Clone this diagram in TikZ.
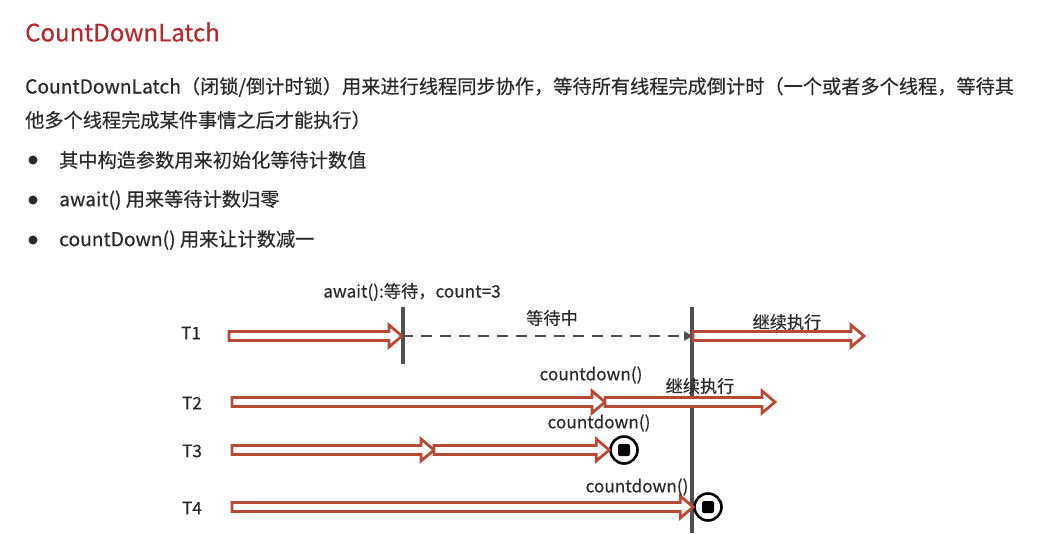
\documentclass[tikz,border=0pt]{standalone}
\usepackage{fontspec}
\setmainfont[FakeBold=0.4]{Noto Sans CJK SC}
\usetikzlibrary{arrows.meta,calc,positioning}

\definecolor{latchred}{HTML}{B02A30}
\definecolor{arrowred}{HTML}{B84A35}
\definecolor{inkgray}{HTML}{2A2A2A}
\definecolor{linegray}{HTML}{505050}

% hollow block arrow between two named points (height taken from the first)
\newcommand\hollowarrow[2]{%
  \draw[tharrow] let \p1=(#1), \p2=(#2) in
    (\x1,\y1+4.5pt) -- (\x2-13pt,\y1+4.5pt) -- (\x2-13pt,\y1+11pt) -- (\x2,\y1)
    -- (\x2-13pt,\y1-11pt) -- (\x2-13pt,\y1-4.5pt) -- (\x1,\y1-4.5pt) -- cycle;}

\begin{document}
\begin{tikzpicture}[x=1pt,y=-1pt,
  body/.style={text=inkgray,inner sep=0pt,font=\fontsize{19.2}{23}\selectfont},
  lbl/.style={text=inkgray,inner sep=0pt,font=\fontsize{17.2}{20}\selectfont},
  tharrow/.style={draw=arrowred,line width=2.8pt,fill=white,line join=miter},
  latchline/.style={draw=linegray,line width=3.2pt},
  waitline/.style={draw=linegray,line width=2.8pt,dash pattern=on 11pt off 8pt,-{Triangle[length=9pt,width=9pt]}},
  stopmark/.style={circle,draw=black,line width=2.6pt,minimum size=27pt,inner sep=0pt,
    path picture={\fill[rounded corners=2pt] ($(path picture bounding box.center)+(-6pt,-6pt)$) rectangle ++(12pt,12pt);}},
  bullet/.style={circle,fill=inkgray,minimum size=9pt,inner sep=0pt}]
\useasboundingbox (0,0) rectangle (1051,533);

% heading and text
\node[anchor=west,inner sep=0pt,text=latchred,font=\fontsize{24}{28}\selectfont] (title) at (25,32) {CountDownLatch};
\node[body,anchor=west] (para1) at (25,87) {CountDownLatch（闭锁/倒计时锁）用来进行线程同步协作，等待所有线程完成倒计时（一个或者多个线程，等待其};
\node[body,anchor=west] (para2) at (25,120) {他多个线程完成某件事情之后才能执行）};
\node[bullet] (b1) at (33,160) {};
\node[bullet] (b2) at (33,200) {};
\node[bullet] (b3) at (33,240) {};
\node[body,anchor=west] (item1) at (59,160) {其中构造参数用来初始化等待计数值};
\node[body,anchor=west] (item2) at (59,200) {await() 用来等待计数归零};
\node[body,anchor=west] (item3) at (59,240) {countDown() 用来让计数减一};

% thread labels
\node[lbl] (t1) at (191,333) {T1};
\node[lbl] (t2) at (192,403) {T2};
\node[lbl] (t3) at (192,451) {T3};
\node[lbl] (t4) at (192,508) {T4};

% latch lines
\coordinate (awaittop) at (403,307);
\coordinate (awaitbot) at (403,364);
\coordinate (zerotop) at (692,307);
\coordinate (zerobot) at (692,533);
\draw[latchline] (awaittop) -- (awaitbot);
\draw[latchline] (zerotop) -- (zerobot);

% T1
\coordinate (t1s) at (229,336);
\coordinate (t1w) at (402,336);
\coordinate (t1g) at (693,336);
\coordinate (t1e) at (864,336);
\hollowarrow{t1s}{t1w}
\draw[waitline] (t1w) -- (t1g);
\hollowarrow{t1g}{t1e}
\node[lbl] (await) at (412,292) {await():等待，count=3};
\node[lbl] (waiting) at (552,318) {等待中};
\node[lbl] (go1) at (787,322) {继续执行};

% T2
\coordinate (t2s) at (232,402);
\coordinate (t2c) at (605,402);
\coordinate (t2e) at (775,402);
\hollowarrow{t2s}{t2c}
\hollowarrow{t2c}{t2e}
\node[lbl] (cd2) at (591,375) {countdown()};
\node[lbl] (go2) at (700,386) {继续执行};

% T3
\coordinate (t3s) at (232,450);
\coordinate (t3m) at (434,450);
\node[stopmark] (stop3) at (624,450) {};
\hollowarrow{t3s}{t3m}
\hollowarrow{t3m}{stop3.west}
\node[lbl] (cd3) at (599,423) {countdown()};

% T4
\coordinate (t4s) at (232,507);
\node[stopmark] (stop4) at (708,507) {};
\hollowarrow{t4s}{stop4.west}
\node[lbl] (cd4) at (637,487) {countdown()};
\end{tikzpicture}
\end{document}
